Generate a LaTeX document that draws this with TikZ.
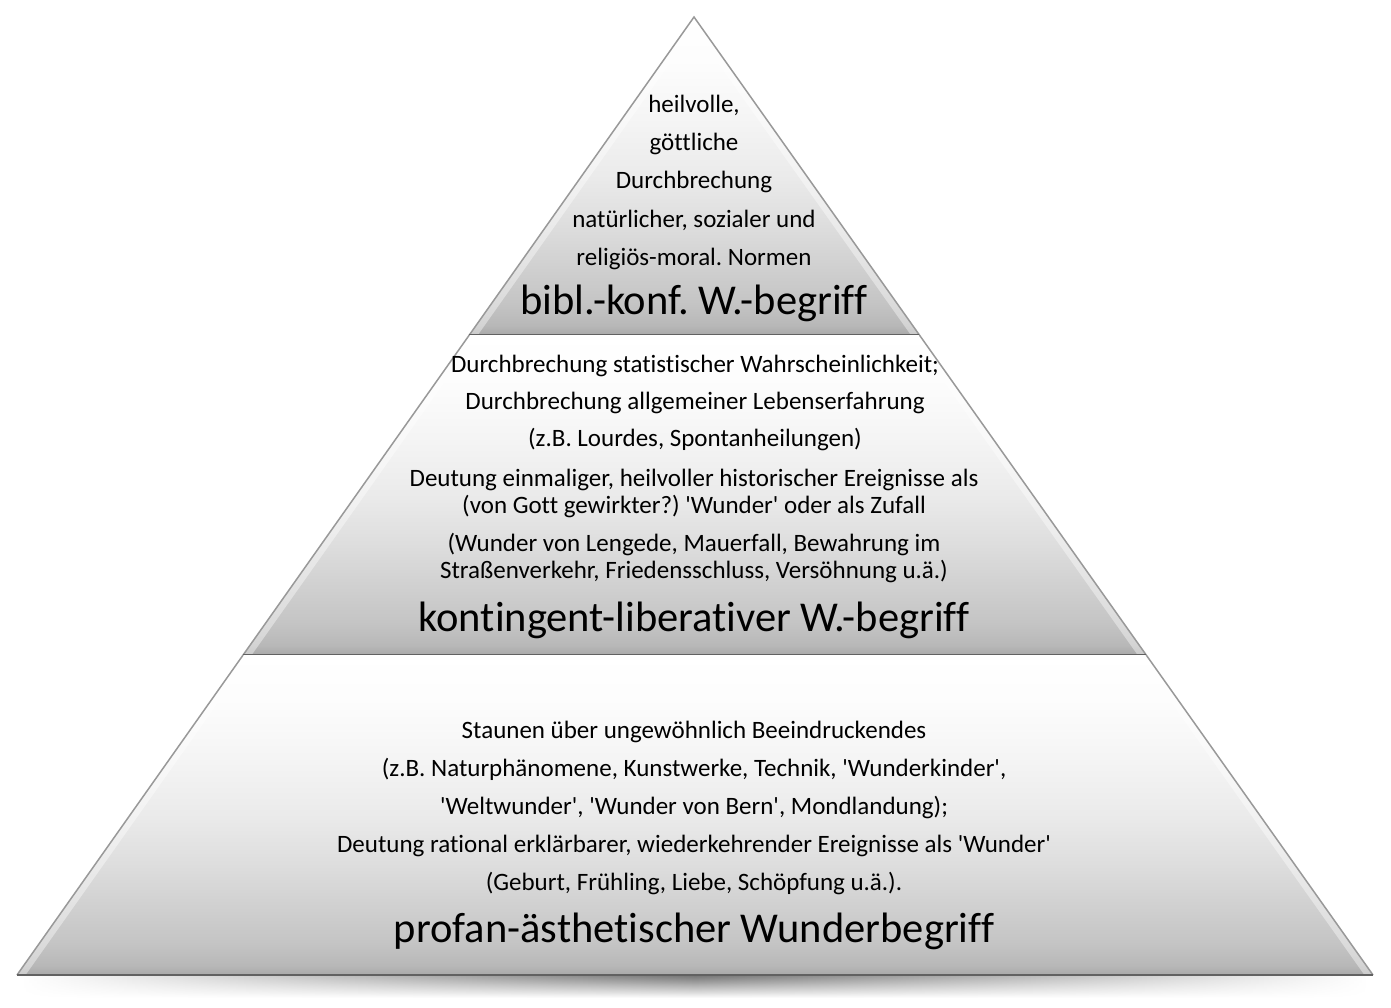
\documentclass[tikz,border=0pt]{standalone}
\usepackage{fontspec}
\setmainfont{Carlito}[Ligatures=NoCommon]
\usetikzlibrary{fadings}
\frenchspacing
\pgfdeclareverticalshading{bandshade}{100bp}{color(0bp)=(white!64!black); color(25bp)=(white!66!black); color(26.5bp)=(white!72!black); color(30bp)=(white!77!black); color(35bp)=(white!81!black); color(42.5bp)=(white!87!black); color(50bp)=(white!92!black); color(59bp)=(white!96!black); color(67.5bp)=(white!99!black); color(75bp)=(white); color(100bp)=(white)}
\tikzfading[name=fade sides, left color=transparent!100, right color=transparent!100, middle color=transparent!0]
\newcommand{\sq}{\textquotesingle}
\begin{document}
\begin{tikzpicture}[x=1pt,y=-1pt,
  small/.style={font=\fontsize{25}{25}\selectfont, anchor=base, inner sep=0pt},
  big/.style={font=\fontsize{42.5}{43}\selectfont, anchor=base, inner sep=0pt},
  band/.style={shading=bandshade},
  slant/.style={draw=black!40, line width=1.5pt, line join=miter},
  bevel/.style={draw=white, opacity=.4, line width=14pt},
  bottomline/.style={draw=black!62, line width=2.5pt}]
\useasboundingbox (0,0) rectangle (1391,1007);
\coordinate (A) at (694,17);
\coordinate (L1) at (469.3,335);
\coordinate (R1) at (919.4,335);
\coordinate (L2) at (243.1,655);
\coordinate (R2) at (1146.2,655);
\coordinate (BL) at (17,975);
\coordinate (BR) at (1373,975);
% shadow
\shade[top color=black!55, bottom color=white, path fading=fade sides] (22,975) rectangle (1368,998);
% top band
\shade[band] (A) -- (R1) -- (L1) -- cycle;
\begin{scope}\clip (A) -- (R1) -- (L1) -- cycle; \draw[bevel] (L1) -- (A) -- (R1);\end{scope}
\draw[slant] (L1) -- (A) -- (R1);
\draw[bottomline] (L1) -- (R1);
% middle band
\shade[band] (L1) -- (R1) -- (R2) -- (L2) -- cycle;
\begin{scope}\clip (L1) -- (R1) -- (R2) -- (L2) -- cycle; \draw[bevel] (L2) -- (L1); \draw[bevel] (R1) -- (R2);\end{scope}
\draw[slant] (L1) -- (L2);
\draw[slant] (R1) -- (R2);
\draw[bottomline] (L2) -- (R2);
% bottom band
\shade[band] (L2) -- (R2) -- (BR) -- (BL) -- cycle;
\begin{scope}\clip (L2) -- (R2) -- (BR) -- (BL) -- cycle; \draw[bevel] (BL) -- (L2); \draw[bevel] (R2) -- (BR);\end{scope}
\draw[slant] (L2) -- (BL);
\draw[slant] (R2) -- (BR);
\draw[bottomline] (BL) -- (BR);
% texts top
\node[small] (t1) at (694,112) {heilvolle,};
\node[small] (t2) at (694,150) {göttliche};
\node[small] (t3) at (694,188) {Durchbrechung};
\node[small] (t4) at (694,227) {natürlicher, sozialer und};
\node[small] (t5) at (694,265) {religiös-moral. Normen};
\node[big] (tb) at (694,314) {bibl.-konf. W.-begriff};
% texts middle
\node[small] (m1) at (695,372) {Durchbrechung statistischer Wahrscheinlichkeit;};
\node[small] (m2) at (695,409) {Durchbrechung allgemeiner Lebenserfahrung};
\node[small] (m3) at (695,446) {(z.B. Lourdes, Spontanheilungen)};
\node[small] (m4) at (694,486) {Deutung einmaliger, heilvoller historischer Ereignisse als};
\node[small] (m5) at (694,513) {(von Gott gewirkter?) \sq Wunder\sq{} oder als Zufall};
\node[small] (m6) at (694,551) {(Wunder von Lengede, Mauerfall, Bewahrung im};
\node[small] (m7) at (694,578) {Straßenverkehr, Friedensschluss, Versöhnung u.ä.)};
\node[big] (mb) at (694,631) {kontingent-liberativer W.-begriff};
% texts bottom
\node[small] (b1) at (694,738) {Staunen über ungewöhnlich Beeindruckendes};
\node[small] (b2) at (694,776) {(z.B. Naturphänomene, Kunstwerke, Technik, \sq Wunderkinder\sq ,};
\node[small] (b3) at (694,814) {\sq Weltwunder\sq , \sq Wunder von Bern\sq , Mondlandung);};
\node[small] (b4) at (694,852) {Deutung rational erklärbarer, wiederkehrender Ereignisse als \sq Wunder\sq};
\node[small] (b5) at (694,890) {(Geburt, Frühling, Liebe, Schöpfung u.ä.).};
\node[big] (bb) at (694,942) {profan-ästhetischer Wunderbegriff};
\end{tikzpicture}
\end{document}
